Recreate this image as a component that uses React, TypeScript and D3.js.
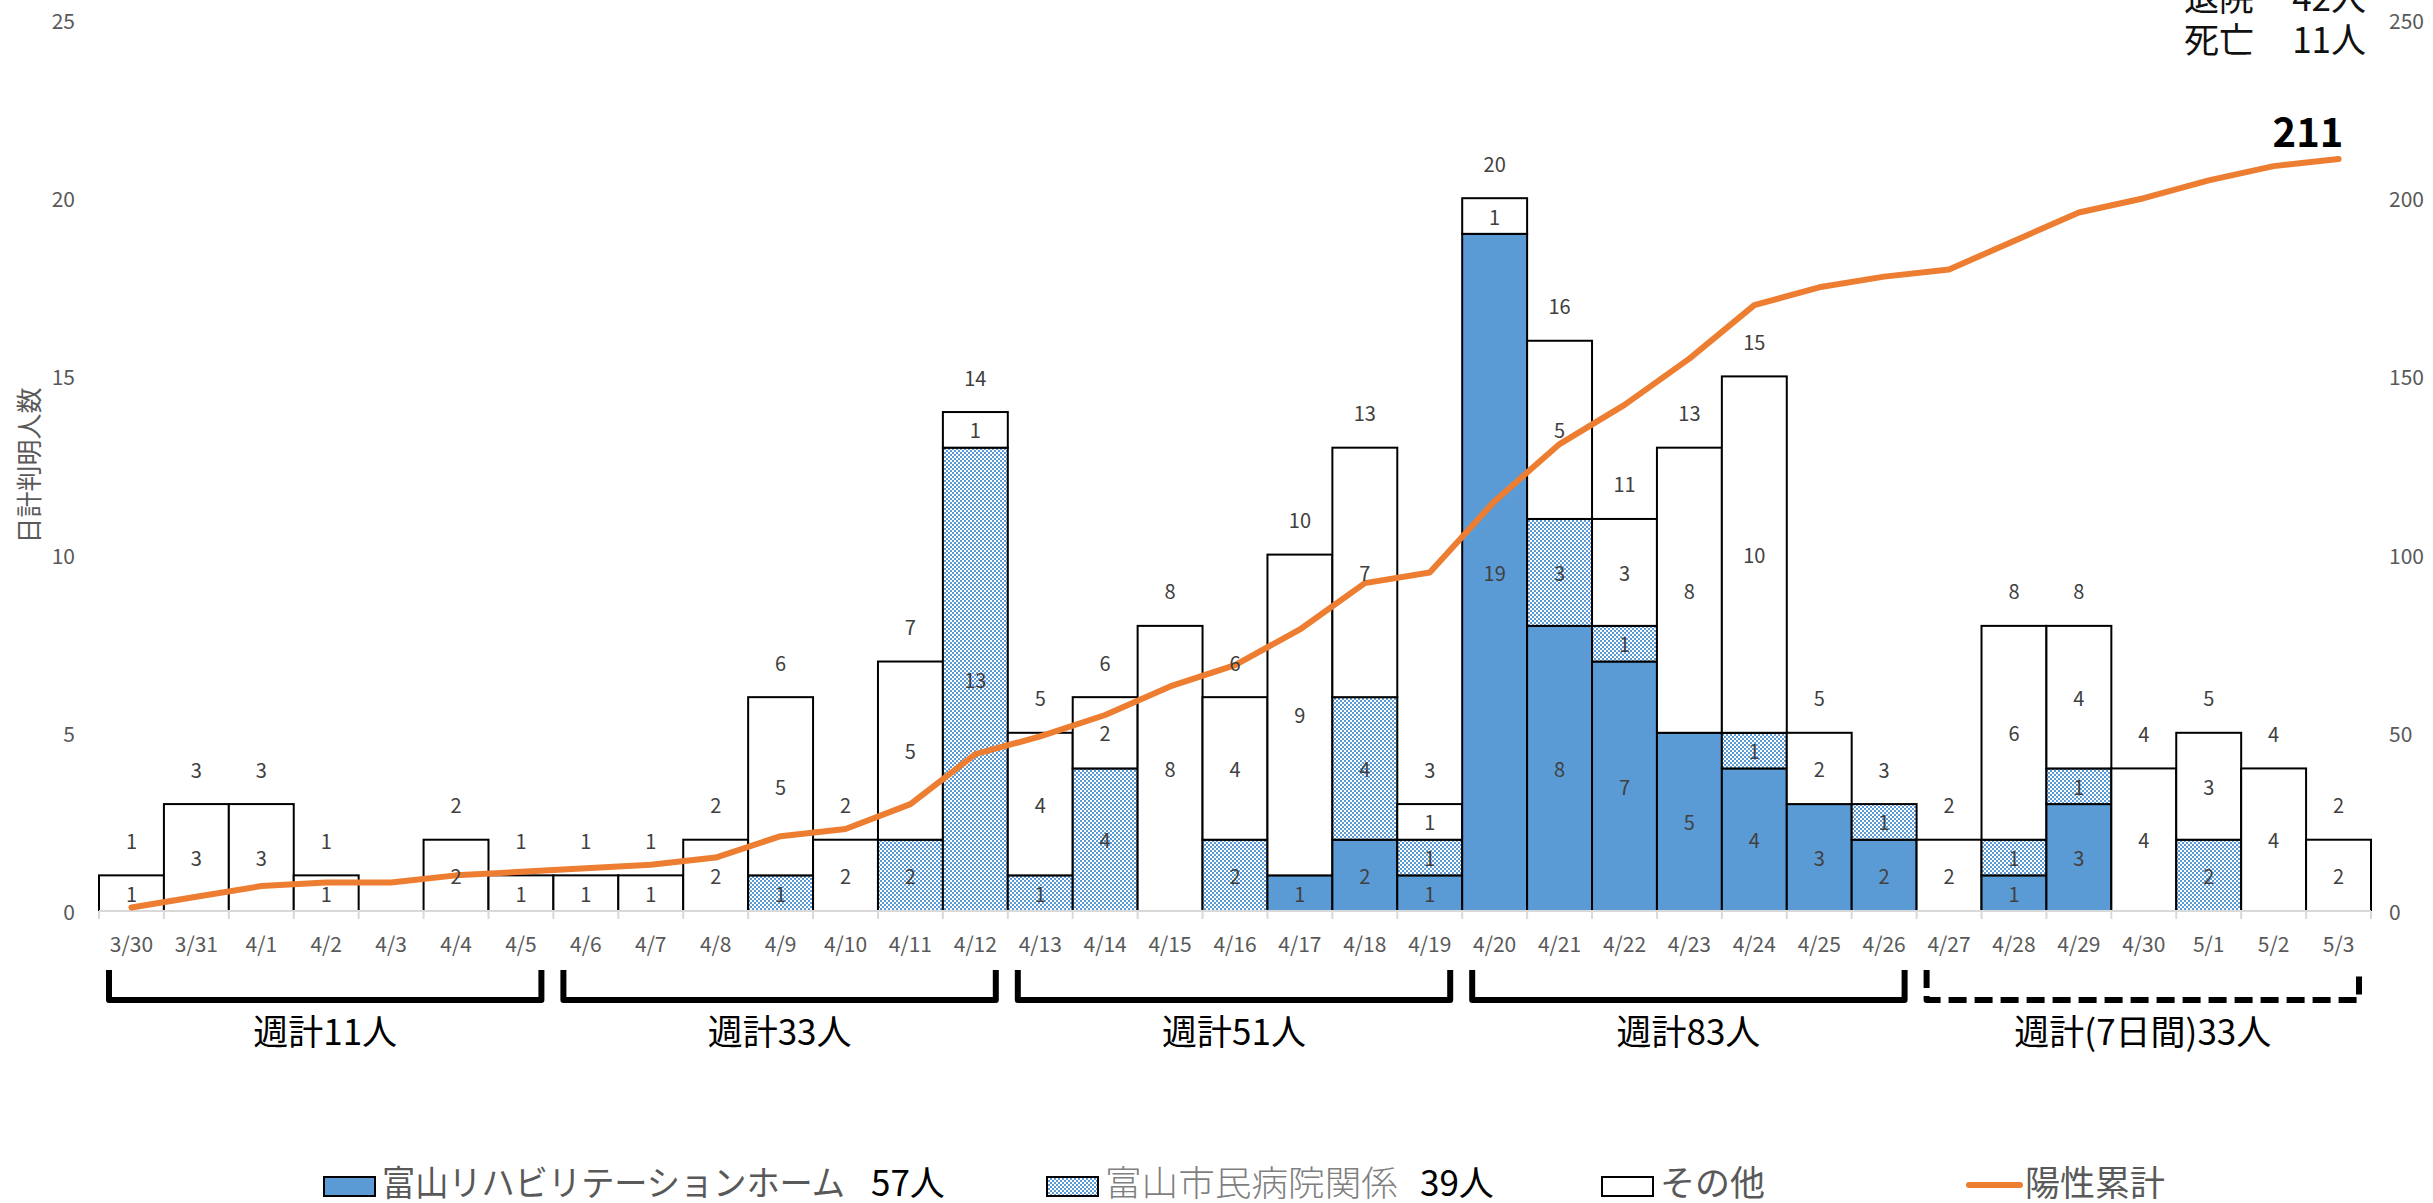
import React from "react";
import * as d3 from "d3";

const dates = ["3/30","3/31","4/1","4/2","4/3","4/4","4/5","4/6","4/7","4/8","4/9","4/10","4/11","4/12","4/13","4/14","4/15","4/16","4/17","4/18","4/19","4/20","4/21","4/22","4/23","4/24","4/25","4/26","4/27","4/28","4/29","4/30","5/1","5/2","5/3"];
const rehab = [0,0,0,0,0,0,0,0,0,0,0,0,0,0,0,0,0,0,1,2,1,19,8,7,5,4,3,2,0,1,3,0,0,0,0];
const hospital = [0,0,0,0,0,0,0,0,0,0,1,0,2,13,1,4,0,2,0,4,1,0,3,1,0,1,0,1,0,1,1,0,2,0,0];
const other = [1,3,3,1,0,2,1,1,1,2,5,2,5,1,4,2,8,4,9,7,1,1,5,3,8,10,2,0,2,6,4,4,3,4,2];
const cumulative = [1,4,7,8,8,10,11,12,13,15,21,23,30,44,49,55,63,69,79,92,95,115,131,142,155,170,175,178,180,188,196,200,205,209,211];
const leftTicks = [0,5,10,15,20,25];
const rightTicks = [0,50,100,150,200,250];
const weekStart = [0,7,14,21,28];
const weekLabels = ["週計11人","週計33人","週計51人","週計83人","週計(7日間)33人"];
const weekDashed = [false,false,false,false,true];
const seriesNames = ["富山リハビリテーションホーム","富山市民病院関係","その他","陽性累計"];
const seriesCounts = ["57人","39人"];
const statusLabels = ["退院","死亡"];
const statusValues = ["42人","11人"];
const finalTotal = "211";
const yTitle = "日計判明人数";

const W = 2433, H = 1203;
const FONT = "'Noto Sans CJK JP', 'Noto Sans', sans-serif";
const BLUE = "#5B9BD5";
const ORANGE = "#ED7D31";

export default function App() {
  const x = d3.scaleBand<string>().domain(dates).range([99, 2371]).paddingInner(0).paddingOuter(0);
  const y = d3.scaleLinear().domain([0, 25]).range([911, 20]);
  const y2 = d3.scaleLinear().domain([0, 250]).range([911, 20]);
  const bw = x.bandwidth();
  const cx = (d: string) => (x(d) as number) + bw / 2;

  const line = d3.line<number>()
    .x((_, i) => cx(dates[i]))
    .y((v) => y2(v));

  const fills = [BLUE, "url(#hatch)", "#FFFFFF"];
  const series = [rehab, hospital, other];

  const segs: any[] = [];
  dates.forEach((d, i) => {
    let base = 0;
    series.forEach((s, k) => {
      const v = s[i];
      if (v > 0) {
        segs.push({ d, k, y0: base, y1: base + v, v });
      }
      base += v;
    });
  });
  const totals = dates.map((_, i) => rehab[i] + hospital[i] + other[i]);

  const boundaries = d3.range(dates.length + 1).map((i) => 99 + i * bw);

  return (
    <svg width={W} height={H} style={{ position: "absolute", left: 0, top: 0, background: "#fff" }} fontFamily={FONT}>
      <defs>
        <pattern id="hatch" patternUnits="userSpaceOnUse" width={4} height={4}>
          <rect width={4} height={4} fill="#fff" />
          <rect x={0} y={0} width={2} height={2} fill={BLUE} />
          <rect x={2} y={2} width={2} height={2} fill={BLUE} />
        </pattern>
      </defs>
      <rect width={W} height={H} fill="#fff" />

      {/* left axis labels */}
      {leftTicks.map((t) => (
        <text key={"l" + t} x={75} y={y(t)} textAnchor="end" dominantBaseline="central" fontSize={21} fill="#595959">{t}</text>
      ))}
      {rightTicks.map((t) => (
        <text key={"r" + t} x={2389} y={y2(t)} textAnchor="start" dominantBaseline="central" fontSize={21} fill="#595959">{t}</text>
      ))}
      <text transform={`translate(27,${(y(0) + y(25)) / 2}) rotate(-90)`} textAnchor="middle" dominantBaseline="central" fontSize={26} fill="#595959">{yTitle}</text>

      {/* bars */}
      {segs.map((s, i) => (
        <rect key={"b" + i} x={x(s.d)} y={y(s.y1)} width={bw} height={y(s.y0) - y(s.y1)} fill={fills[s.k]} stroke="#000" strokeWidth={2} />
      ))}

      {/* x axis */}
      <line x1={99} x2={2371} y1={y(0)} y2={y(0)} stroke="#D9D9D9" strokeWidth={2} />
      {boundaries.map((bx, i) => (
        <line key={"t" + i} x1={bx} x2={bx} y1={y(0)} y2={y(0) + 8} stroke="#D9D9D9" strokeWidth={2} />
      ))}
      {dates.map((d) => (
        <text key={"c" + d} x={cx(d)} y={943} textAnchor="middle" dominantBaseline="central" fontSize={21} fill="#595959">{d}</text>
      ))}

      {/* cumulative line */}
      <path d={line(cumulative) || ""} fill="none" stroke={ORANGE} strokeWidth={6} strokeLinejoin="round" strokeLinecap="round" />

      {/* data labels */}
      {segs.map((s, i) => (
        <text key={"sl" + i} x={cx(s.d)} y={(y(s.y0) + y(s.y1)) / 2} textAnchor="middle" dominantBaseline="central" fontSize={20} fill="#404040">{s.v}</text>
      ))}
      {totals.map((t, i) => t > 0 ? (
        <text key={"tl" + i} x={cx(dates[i])} y={y(t) - 35} textAnchor="middle" dominantBaseline="central" fontSize={20} fill="#404040">{t}</text>
      ) : null)}

      <text x={2308} y={147} textAnchor="middle" fontSize={40} fontWeight="bold" fill="#000">{finalTotal}</text>

      {/* status text */}
      {statusLabels.map((s, i) => (
        <g key={"st" + i}>
          <text x={2184} y={11 + i * 42} fontSize={35} fill="#111">{s}</text>
          <text x={2366} y={11 + i * 42} textAnchor="end" fontSize={35} fill="#111">{statusValues[i]}</text>
        </g>
      ))}

      {/* week brackets */}
      {weekStart.map((ws, i) => {
        const x0 = (x(dates[ws]) as number) + 10;
        const x1 = (x(dates[ws + 6]) as number) + bw - 12;
        return (
          <g key={"w" + i}>
            <path d={`M${x0},970 L${x0},1000 L${x1},1000 L${x1},970`} fill="none" stroke="#000" strokeWidth={6}
              strokeLinejoin="round" strokeDasharray={weekDashed[i] ? "18,8" : undefined} />
            <text x={(x0 + x1) / 2} y={1045} textAnchor="middle" fontSize={35} fill="#000">{weekLabels[i]}</text>
          </g>
        );
      })}

      {/* legend */}
      <rect x={324} y={1177} width={51} height={19} fill={BLUE} stroke="#000" strokeWidth={2} />
      <text x={382} y={1196} fontSize={35} fill="#595959" textLength={463} lengthAdjust="spacingAndGlyphs">{seriesNames[0]}</text>
      <text x={871} y={1196} fontSize={35} fill="#000">{seriesCounts[0]}</text>

      <rect x={1047} y={1177} width={51} height={19} fill="url(#hatch)" stroke="#000" strokeWidth={2} />
      <text x={1105} y={1196} fontSize={35} fill="#7F7F7F" fontWeight={300} textLength={293} lengthAdjust="spacingAndGlyphs">{seriesNames[1]}</text>
      <text x={1420} y={1196} fontSize={35} fill="#000">{seriesCounts[1]}</text>

      <rect x={1602} y={1177} width={51} height={19} fill="#fff" stroke="#000" strokeWidth={2} />
      <text x={1660} y={1196} fontSize={35} fill="#595959">{seriesNames[2]}</text>

      <line x1={1969} x2={2020} y1={1185} y2={1185} stroke={ORANGE} strokeWidth={6} strokeLinecap="round" />
      <text x={2025} y={1196} fontSize={35} fill="#595959">{seriesNames[3]}</text>
    </svg>
  );
}
